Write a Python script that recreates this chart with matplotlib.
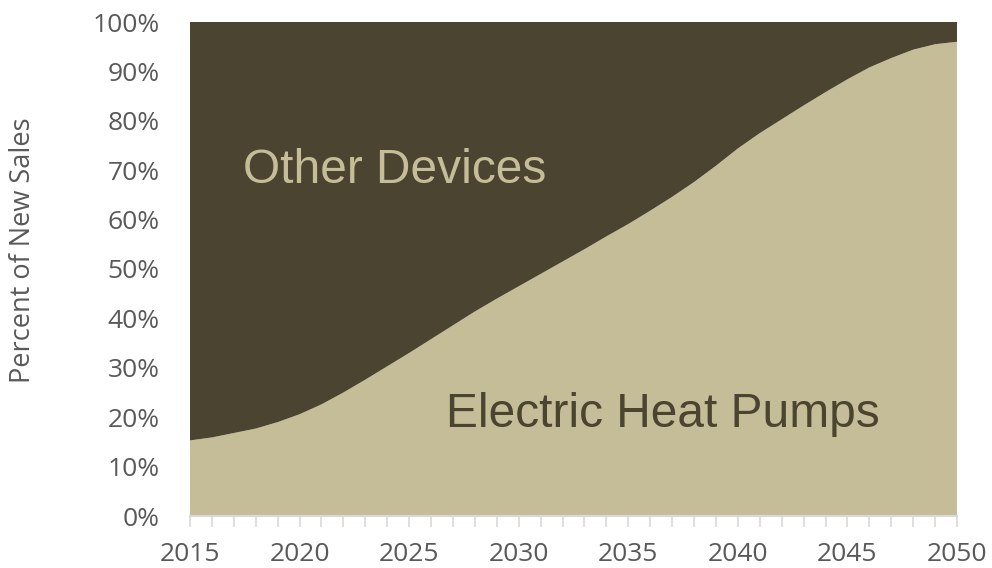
import numpy as np
import matplotlib.pyplot as plt
from matplotlib.ticker import MultipleLocator, PercentFormatter

# 数据
years = list(range(2015, 2051))
heat_pumps = [15.3, 15.9, 16.8, 17.7, 19.0, 20.6, 22.6, 25.0, 27.6, 30.3,
              33.0, 35.8, 38.6, 41.4, 44.0, 46.5, 49.0, 51.5, 54.0, 56.6,
              59.1, 61.8, 64.6, 67.6, 70.9, 74.4, 77.5, 80.3, 83.1, 85.8,
              88.4, 90.8, 92.7, 94.4, 95.5, 96.0]
other_devices = [100 - v for v in heat_pumps]

dark = '#4A4430'
light = '#C4BD97'
grey_text = '#595959'

plt.rcParams['font.family'] = ['Open Sans', 'DejaVu Sans']

fig = plt.figure(figsize=(9.92, 5.68), dpi=100)
ax = fig.add_axes([190 / 992, 52 / 568, (957 - 190) / 992, (516 - 22) / 568])

ax.stackplot(years, heat_pumps, other_devices, colors=[light, dark], linewidth=0)

ax.set_xlim(2015, 2050)
ax.set_ylim(0, 100)
ax.xaxis.set_major_locator(MultipleLocator(5))
ax.xaxis.set_minor_locator(MultipleLocator(1))
ax.yaxis.set_major_locator(MultipleLocator(10))
ax.yaxis.set_major_formatter(PercentFormatter(decimals=0))

for s in ['top', 'right', 'left']:
    ax.spines[s].set_visible(False)
ax.spines['bottom'].set_color('#D9D9D9')
ax.spines['bottom'].set_linewidth(1.5)

ax.tick_params(axis='x', which='both', direction='out', length=8, width=1.2,
               color='#D9D9D9', labelsize=19, labelcolor=grey_text, pad=11)
ax.tick_params(axis='x', which='minor', labelbottom=False)
ax.tick_params(axis='y', length=0, labelsize=19, labelcolor=grey_text, pad=22)

fig.text(23 / 992, 1 - 250 / 568, 'Percent of New Sales', fontsize=19.5,
         color=grey_text, rotation=90, ha='center', va='center')

ax.text(2017.4, 70, 'Other Devices', fontsize=34.5, color=light,
        family='Liberation Sans', va='center', ha='left')
ax.text(2026.7, 20.5, 'Electric Heat Pumps', fontsize=34.5, color=dark,
        family='Liberation Sans', va='center', ha='left')

fig.savefig('out.png', dpi=100)
